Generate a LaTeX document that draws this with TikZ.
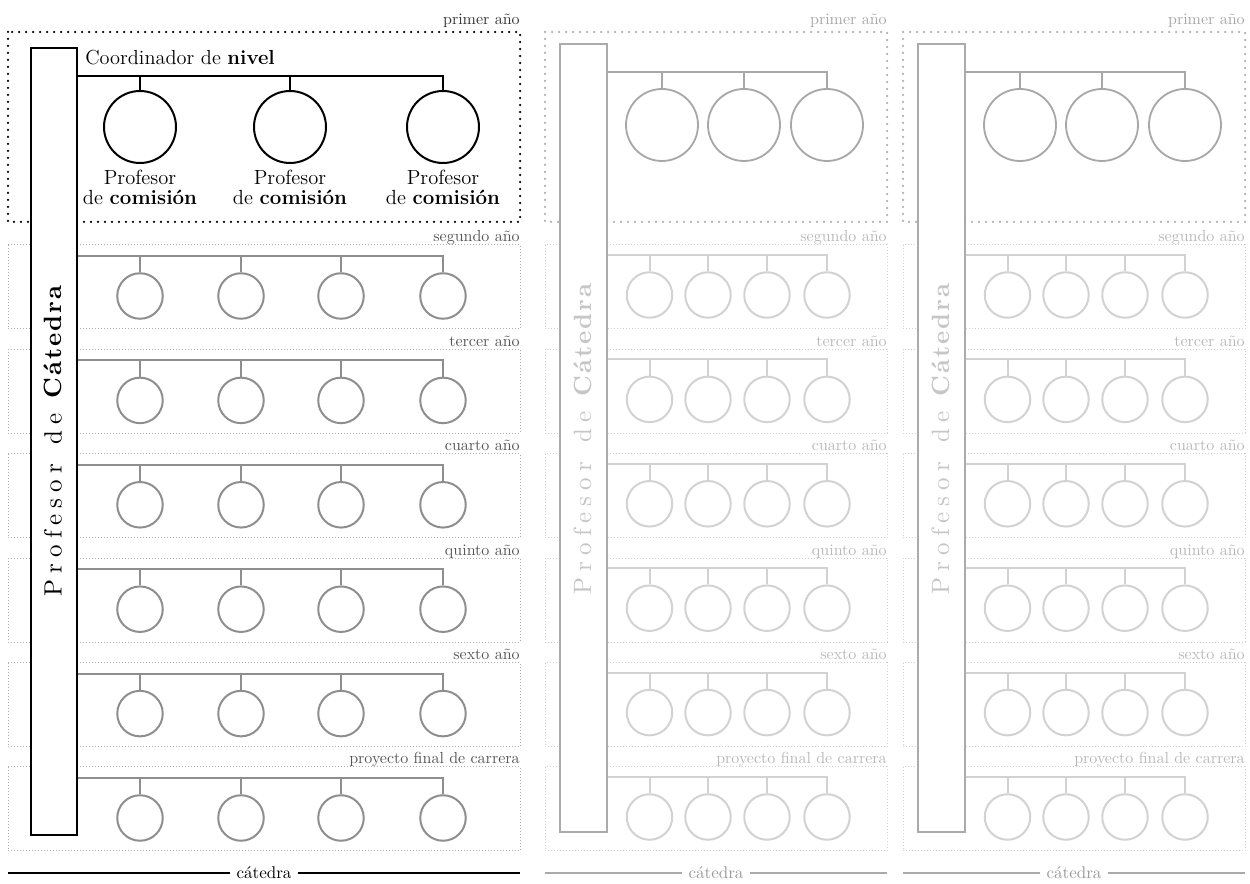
\documentclass[tikz,border=0pt]{standalone}
\usepackage{fontspec}
\newfontfamily\spacedfont{lmroman10}[Extension=.otf,UprightFont=*-regular,BoldFont=*-bold,UprightFeatures={LetterSpace=24},BoldFeatures={LetterSpace=8}]
\definecolor{labTopA}{HTML}{333333}
\definecolor{labA}{HTML}{555555}
\definecolor{lineA}{HTML}{8E8E8E}
\definecolor{dotA}{HTML}{ACACAC}
\definecolor{lineTopB}{HTML}{A8A8A8}
\definecolor{dotTopB}{HTML}{AEAEAE}
\definecolor{labTopB}{HTML}{A6A6A6}
\definecolor{lineB}{HTML}{D2D2D2}
\definecolor{dotB}{HTML}{D0D0D0}
\definecolor{labB}{HTML}{B8B8B8}
\definecolor{barB}{HTML}{ABABAB}
\definecolor{barTextB}{HTML}{C6C6C6}
\definecolor{botB}{HTML}{AAAAAA}
\definecolor{botTextB}{HTML}{9A9A9A}
\begin{document}
\begin{tikzpicture}[x=0.6pt,y=-0.6pt,
  bigdots/.style={line width=1.5pt, dash pattern=on 0pt off 4.2pt, line cap=round},
  finedots/.style={line width=0.6pt, dash pattern=on 0.6pt off 1.2pt},
  bigcirc/.style={circle, draw, minimum size=43.2pt, inner sep=0pt},
  smallcirc/.style={circle, draw, minimum size=27.3pt, inner sep=0pt},
  barbox/.style={rectangle, draw, fill=white, inner sep=0pt},
  yearlab/.style={anchor=base east, inner sep=0pt, font=\fontsize{9.6}{11}\selectfont},
  proflab/.style={anchor=base, inner sep=0pt, font=\fontsize{12.3}{14}\selectfont},
  bartext/.style={rotate=90, inner sep=0pt, font=\spacedfont\fontsize{15}{18}\selectfont},
  cattext/.style={anchor=base, inner xsep=4pt, inner ysep=0pt, font=\fontsize{10.2}{12}\selectfont}
]
\useasboundingbox (0,0) rectangle (1250,884);

% ================= Panel A =================
\draw[bigdots, black] (8,32) rectangle (520,222);
\node[yearlab, text=labTopA] (A-lab0) at (520,25) {primer año};
\foreach \t/\lab [count=\i] in {245/segundo año,349.4/tercer año,453.8/cuarto año,558.2/quinto año,662.6/sexto año,767/proyecto final de carrera}{
  \draw[finedots, dotA] (8,\t) rectangle (520,\t+84);
  \node[yearlab, text=labA] (A-lab\i) at (520,\t-3) {\lab};
}
\node[barbox, line width=1.4pt, draw=black, minimum width=27.6pt, minimum height=472.2pt] (barA) at (54,441.5) {};
\node[bartext, text=black] (barAtext) at (53,440) {Profesor\hspace{12pt}de\hspace{5pt}\textbf{Cátedra}};

\node[anchor=base west, inner sep=0pt, font=\fontsize{12.2}{14}\selectfont] (coordA) at (85,65) {Coordinador de \textbf{nivel}};
\foreach \x [count=\j] in {140,290,443}{
  \node[bigcirc, line width=1.2pt, draw=black] (A0-\j) at (\x,127) {};
  \node[proflab] (A0-\j-a) at (\x,185) {Profesor};
  \node[proflab] (A0-\j-b) at (\x,205) {de \textbf{comisión}};
}
\coordinate (A0-y) at (0,76);
\draw[line width=1.2pt, black] (barA.east |- A0-y) -| (A0-3.north);
\foreach \j in {1,2}{ \draw[line width=1.2pt, black] (A0-\j.north) -- (A0-\j.north |- A0-y); }

\foreach \t [count=\i] in {245,349.4,453.8,558.2,662.6,767}{
  \foreach \x [count=\j] in {140,241,341,443}{
    \node[smallcirc, line width=1.2pt, draw=lineA] (A\i-\j) at (\x,\t+51) {};
  }
  \coordinate (A\i-y) at (0,\t+11);
  \draw[line width=1.2pt, lineA] (barA.east |- A\i-y) -| (A\i-4.north);
  \foreach \j in {1,2,3}{ \draw[line width=1.2pt, lineA] (A\i-\j.north) -- (A\i-\j.north |- A\i-y); }
}

\node[cattext, text=black] (catA) at (264,879) {cátedra};
\coordinate (catA-l) at (8,873);
\coordinate (catA-r) at (520,873);
\draw[line width=1.2pt, black] (catA-l) -- (catA-l -| catA.west);
\draw[line width=1.2pt, black] (catA.east |- catA-r) -- (catA-r);

% ================= Panels B and C =================
\foreach \o/\p in {0/B,358/C}{
  \draw[bigdots, dotTopB] (545+\o,32) rectangle (887+\o,222);
  \node[yearlab, text=labTopB] (\p-lab0) at (887+\o,25) {primer año};
  \foreach \t/\lab [count=\i] in {245/segundo año,349.4/tercer año,453.8/cuarto año,558.2/quinto año,662.6/sexto año,767/proyecto final de carrera}{
    \draw[finedots, dotB] (545+\o,\t) rectangle (887+\o,\t+84);
    \node[yearlab, text=labB] (\p-lab\i) at (887+\o,\t-3) {\lab};
  }
  \node[barbox, line width=1.2pt, draw=barB, minimum width=28.2pt, minimum height=472.8pt] (bar\p) at (583.5+\o,438) {};
  \node[bartext, text=barTextB] (bar\p text) at (582.5+\o,438) {Profesor\hspace{12pt}de\hspace{5pt}\textbf{Cátedra}};

  \foreach \x [count=\j] in {662,744,827}{
    \node[bigcirc, line width=1.1pt, draw=lineTopB] (\p0-\j) at (\x+\o,125) {};
  }
  \coordinate (\p0-y) at (0,72);
  \draw[line width=1.1pt, lineTopB] (bar\p.east |- \p0-y) -| (\p0-3.north);
  \foreach \j in {1,2}{ \draw[line width=1.1pt, lineTopB] (\p0-\j.north) -- (\p0-\j.north |- \p0-y); }

  \foreach \t [count=\i] in {245,349.4,453.8,558.2,662.6,767}{
    \foreach \x [count=\j] in {649.5,708,767,827}{
      \node[smallcirc, line width=1.2pt, draw=lineB] (\p\i-\j) at (\x+\o,\t+50) {};
    }
    \coordinate (\p\i-y) at (0,\t+10);
    \draw[line width=1.2pt, lineB] (bar\p.east |- \p\i-y) -| (\p\i-4.north);
    \foreach \j in {1,2,3}{ \draw[line width=1.2pt, lineB] (\p\i-\j.north) -- (\p\i-\j.north |- \p\i-y); }
  }

  \node[cattext, text=botTextB] (cat\p) at (716+\o,879) {cátedra};
  \coordinate (cat\p-l) at (545+\o,873);
  \coordinate (cat\p-r) at (887+\o,873);
  \draw[line width=1pt, botB] (cat\p-l) -- (cat\p-l -| cat\p.west);
  \draw[line width=1pt, botB] (cat\p.east |- cat\p-r) -- (cat\p-r);
}
\end{tikzpicture}
\end{document}
